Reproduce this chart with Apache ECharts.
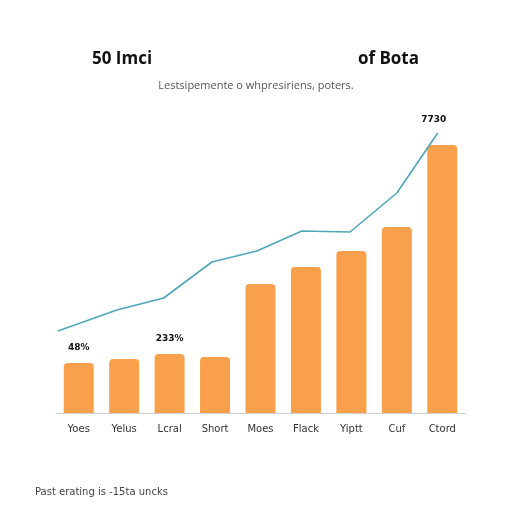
<!DOCTYPE html>
<html>
<head>
<meta charset="utf-8">
<script src="https://cdn.jsdelivr.net/npm/echarts@6/dist/echarts.min.js"></script>
<style>html,body{margin:0;padding:0;background:#fff;}#c{width:512px;height:512px;}</style>
</head>
<body>
<div id="c"></div>
<script>
const categories = ['Yoes', 'Yelus', 'Lcral', 'Short', 'Moes', 'Flack', 'Yiptt', 'Cuf', 'Ctord'];
const barValues = [50, 54, 59, 56, 129, 146, 162, 186, 268];
const barLabels = ['48%', '', '233%', '', '', '', '', '', ''];
const linePositions = [-0.46, 0.84, 1.87, 2.93, 3.92, 4.91, 5.97, 7.0, 7.9];
const lineValues = [82, 103, 115, 151, 162, 182, 181, 220, 280];
const lineLabels = ['', '', '', '', '', '', '', '', '7730'];

const chart = echarts.init(document.getElementById('c'), null, {renderer: 'canvas'});
const font = 'DejaVu Sans';
chart.setOption({
  backgroundColor: '#ffffff',
  animation: false,
  title: [
    {text: '50 Imci', left: 87, top: 46, textStyle: {fontSize: 17, fontWeight: 'bold', color: '#111', fontFamily: 'Open Sans'}},
    {text: 'of Bota', right: 88, top: 46, textStyle: {fontSize: 17, fontWeight: 'bold', color: '#111', fontFamily: 'Open Sans'}},
    {text: 'Lestsipemente o whpresiriens, poters.', left: 'center', top: 75, textStyle: {fontSize: 11, fontWeight: 'normal', color: '#555', fontFamily: 'Open Sans'}},
    {text: 'Past erating is -15ta uncks', left: 30, top: 482, textStyle: {fontSize: 10, fontWeight: 'normal', color: '#444', fontFamily: font}}
  ],
  grid: {left: 56, right: 47, top: 113, bottom: 99},
  xAxis: [
    {
      type: 'category', data: categories, boundaryGap: true,
      axisLine: {lineStyle: {color: '#cfcfcf', width: 1}},
      axisTick: {show: false},
      axisLabel: {color: '#333', fontSize: 10, fontFamily: font, margin: 11}
    },
    {type: 'value', min: -0.5, max: 8.5, show: false}
  ],
  yAxis: {type: 'value', min: 0, max: 300, show: false, splitLine: {show: false}},
  series: [
    {
      type: 'bar', xAxisIndex: 0, barWidth: '66%',
      data: barValues.map((v, i) => ({
        value: v,
        label: {show: barLabels[i] !== '', formatter: barLabels[i], position: 'top', distance: 11,
                color: '#111', fontSize: 9, fontWeight: 'bold', fontFamily: font}
      })),
      itemStyle: {color: '#F9A04C', borderRadius: [4, 4, 0, 0]}
    },
    {
      type: 'line', xAxisIndex: 1, symbol: 'circle', symbolSize: 0, showSymbol: true,
      data: linePositions.map((x, i) => ({
        value: [x, lineValues[i]],
        label: {show: lineLabels[i] !== '', formatter: lineLabels[i], position: 'top', distance: 9, offset: [-4, 0],
                color: '#111', fontSize: 9, fontWeight: 'bold', fontFamily: font}
      })),
      itemStyle: {color: '#4FA6BA'},
      lineStyle: {color: '#4FA6BA', width: 1.6},
      z: 3
    }
  ]
});
</script>
</body>
</html>
